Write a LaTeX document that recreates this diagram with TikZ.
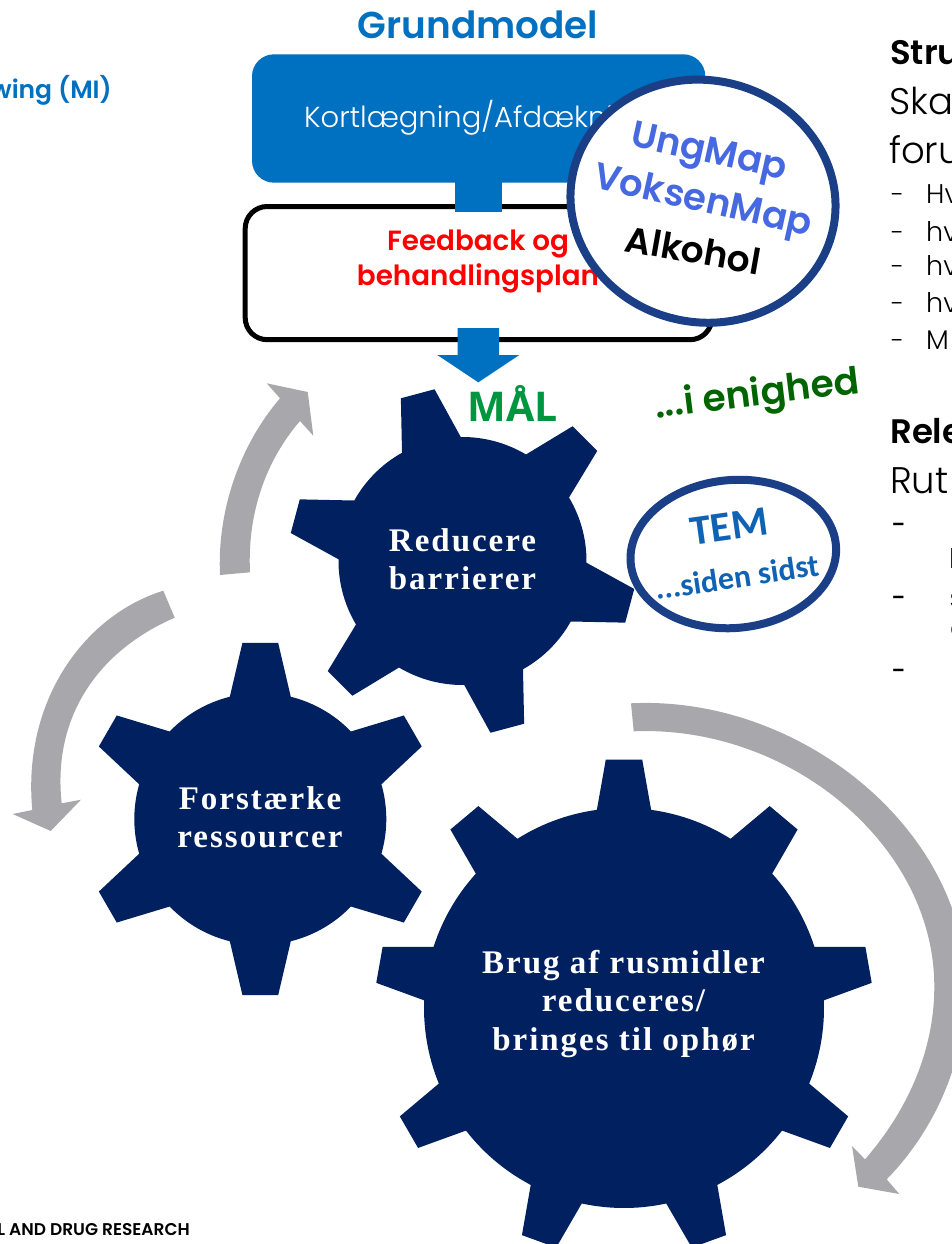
\documentclass[tikz,border=0pt]{standalone}
\usepackage{fontspec}
\usetikzlibrary{shapes.geometric}
\newfontfamily\popb{Poppins SemiBold}
\newfontfamily\popm{Poppins Medium}
\newfontfamily\popl{Poppins Light}
\newfontfamily\serifb[LetterSpace=6]{Liberation Serif Bold}
\newfontfamily\calb{Carlito Bold}
\newfontfamily\opb{Open Sans Bold}
\definecolor{gearblue}{HTML}{002060}
\definecolor{arrowgray}{HTML}{A8A8AC}
\definecolor{boxblue}{HTML}{0070C0}
\definecolor{ringblue}{HTML}{1B3F87}
\definecolor{royal}{HTML}{4668E0}
\definecolor{maal}{HTML}{00963F}
\definecolor{agree}{HTML}{006400}
\definecolor{temblue}{HTML}{0F62B4}
\newcommand{\fpx}[2]{\fontsize{#1}{#2}\selectfont}
% centre x, centre y, root r, tip R, teeth, first tooth angle, root half, tip half
\newcommand{\gearshape}[8]{%
  \pgfmathsetmacro{\gstep}{360/#5}
  \fill[gearblue] ({#1+#3*cos(#6-#7)},{#2+#3*sin(#6-#7)})
  \foreach \gi in {1,...,#5}{
    -- ({#1+#3*cos(#6+(\gi-1)*\gstep-#7)},{#2+#3*sin(#6+(\gi-1)*\gstep-#7)})
    -- ({#1+#4*cos(#6+(\gi-1)*\gstep-#8)},{#2+#4*sin(#6+(\gi-1)*\gstep-#8)})
    -- ({#1+#4*cos(#6+(\gi-1)*\gstep+#8)},{#2+#4*sin(#6+(\gi-1)*\gstep+#8)})
    -- ({#1+#3*cos(#6+(\gi-1)*\gstep+#7)},{#2+#3*sin(#6+(\gi-1)*\gstep+#7)})
    \foreach \gt in {1,...,14}{
      -- ({#1+#3*cos(#6+(\gi-1)*\gstep+#7+\gt/15*(\gstep-2*#7))},{#2+#3*sin(#6+(\gi-1)*\gstep+#7+\gt/15*(\gstep-2*#7))})
    }
  } -- cycle;%
}
\tikzset{
  geartext/.style={text=white,font=\serifb\fpx{33}{38.2},align=center,inner sep=0pt},
  ring/.style={ellipse,draw=ringblue,line width=8pt,fill=white,inner sep=0pt},
  righthead/.style={anchor=base west,inner sep=0pt,font=\popb\fpx{34}{36}},
  rightbig/.style={anchor=base west,inner sep=0pt,font=\popl\fpx{37}{40}},
  rightsmall/.style={anchor=base west,inner sep=0pt,font=\popl\fpx{27}{30}},
  dashmark/.style={anchor=base west,inner sep=0pt,font=\popl\fpx{25}{30}},
  dashbold/.style={anchor=base west,inner sep=0pt,font=\popm\fpx{25}{30}},
}
\begin{document}
\begin{tikzpicture}[x=1pt,y=-1pt]
\useasboundingbox (0,0) rectangle (952,1244);
\clip (0,0) rectangle (952,1244);
\fill[white] (0,0) rectangle (952,1244);
% grey arrows
\fill[arrowgray] (220,575) .. controls (217,510) and (240,445) .. (280,398.3)
  -- (266.7,383.3) -- (307.7,392) -- (313.3,435.7) -- (300,421)
  .. controls (268,458) and (247,510) .. (250,572.3) -- cycle;
\fill[arrowgray] (163.3,590.7) .. controls (85,615) and (22,700) .. (32.3,810)
  -- (12.7,814) -- (50.7,831) -- (81,799.7) -- (61.7,803.3)
  .. controls (52,715) and (100,650) .. (174.7,617.7) -- cycle;
\fill[arrowgray] (631,703.3) .. controls (800,695) and (966,830) .. (966,987)
  .. controls (966,1060) and (935,1130) .. (886.7,1179.3)
  -- (899.3,1194) -- (858.3,1186.7) -- (852,1146) -- (865,1159.3)
  .. controls (908,1110) and (934.3,1050) .. (934.3,986.7)
  .. controls (934.3,845) and (790,725) .. (633.7,731.3) -- cycle;
% gears
\gearshape{462.5}{561}{124}{174}{6}{-105}{14.2}{5.75}
\gearshape{260.3}{819}{126}{177}{6}{-90}{14}{5.8}
\gearshape{624}{1008}{200}{249}{9}{-90}{7.8}{4.2}
\node[geartext] (g1) at (462.5,559) {Reducere\\barrierer};
\node[geartext] (g2) at (260,817) {Forstærke\\ressourcer};
\node[geartext] (g3) at (623.5,1004) {Brug af rusmidler\\reduceres/\\bringes til ophør};
% header
\node[anchor=base,inner sep=0pt,text=boxblue,font=\popb\fpx{37.4}{40}] (title) at (478,39) {Grundmodel};
\node[anchor=base east,inner sep=0pt,text=boxblue,font=\popb\fpx{25}{30}] (mi) at (112,99) {wing (MI)};
\node[anchor=base east,inner sep=0pt,text=black,font=\popb\fpx{17}{20}] (foot) at (190,1235) {L AND DRUG RESEARCH};
% boxes
\fill[boxblue,rounded corners=22pt] (252,54.3) rectangle (705.3,182.7);
\node[anchor=base west,inner sep=0pt,text=white,font=\popl\fpx{29}{34}] (kort) at (304,128) {Kortlægning/Afdækning};
\draw[black,line width=5pt,fill=white,rounded corners=22pt] (245.2,206.5) rectangle (712,339.7);
\fill[boxblue] (455,180) rectangle (502,211.7);
\node[anchor=base,inner sep=0pt,text=red,font=\popb\fpx{27.8}{30}] (fb1) at (478,250) {Feedback og};
\node[anchor=base,inner sep=0pt,text=red,font=\popb\fpx{27.8}{30}] (fb2) at (478,285) {behandlingsplan};
\fill[boxblue] (457.7,328) -- (499,328) -- (499,355) -- (519.3,355) -- (478.3,382.3) -- (437.3,355) -- (457.7,355) -- cycle;
% ring 1
\node[ring,rotate=-12,minimum width=266pt,minimum height=242pt] (ring1) at (703,201.2) {};
\node[rotate=-12.5,inner sep=0pt,text=royal,font=\popb\fpx{37}{40}] (ung) at (708.3,155) {UngMap};
\node[rotate=-12.5,inner sep=0pt,text=royal,font=\popb\fpx{37}{40}] (vok) at (702.7,203.3) {VoksenMap};
\node[rotate=-10,inner sep=0pt,text=black,font=\popb\fpx{36}{40}] (alk) at (693.3,250) {Alkohol};
% MAL and agreement
\node[anchor=base,inner sep=0pt,text=maal,font=\opb\fpx{41}{44}] (mal) at (512.5,421.7) {MÅL};
\node[rotate=7,inner sep=0pt,text=agree,font=\popb\fpx{37.5}{40}] (enig) at (757,396) {...i enighed};
% ring 2
\node[ring,rotate=5,minimum width=206pt,minimum height=148pt] (ring2) at (733.3,554) {};
\node[rotate=8,inner sep=0pt,text=temblue,font=\calb\fpx{42}{46}] (tem) at (729,526.7) {TEM};
\node[rotate=8.5,inner sep=0pt,text=temblue,font=\calb\fpx{32}{34}] (sid) at (736.7,576.7) {...siden sidst};
% right column
\node[righthead] (r1) at (890,65) {Stru};
\node[rightbig] (r2) at (889,114) {Ska};
\node[rightbig] (r3) at (889,163) {foru};
\node[dashmark] (d1) at (891,203) {-};
\node[dashmark] (d2) at (891,241) {-};
\node[dashmark] (d3) at (891,275) {-};
\node[dashmark] (d4) at (891,312) {-};
\node[dashmark] (d5) at (891,349) {-};
\node[rightsmall] (t1) at (926,203) {Hv};
\node[rightsmall] (t2) at (926,241) {hv};
\node[rightsmall] (t3) at (926,275) {hv};
\node[rightsmall] (t4) at (926,312) {hv};
\node[rightsmall] (t5) at (926,349) {M};
\node[righthead] (r4) at (890,443) {Rele};
\node[rightbig] (r5) at (890,493) {Rut};
\node[dashbold] (d6) at (891,533) {-};
\node[dashbold] (d7) at (891,606) {-};
\node[dashbold] (d8) at (891,679) {-};
\node[rightsmall] (f1) at (949,568) {l};
\node[rightsmall] (f2) at (949.5,607) {s};
\node[rightsmall] (f3) at (950,637) {e};
\end{tikzpicture}
\end{document}
